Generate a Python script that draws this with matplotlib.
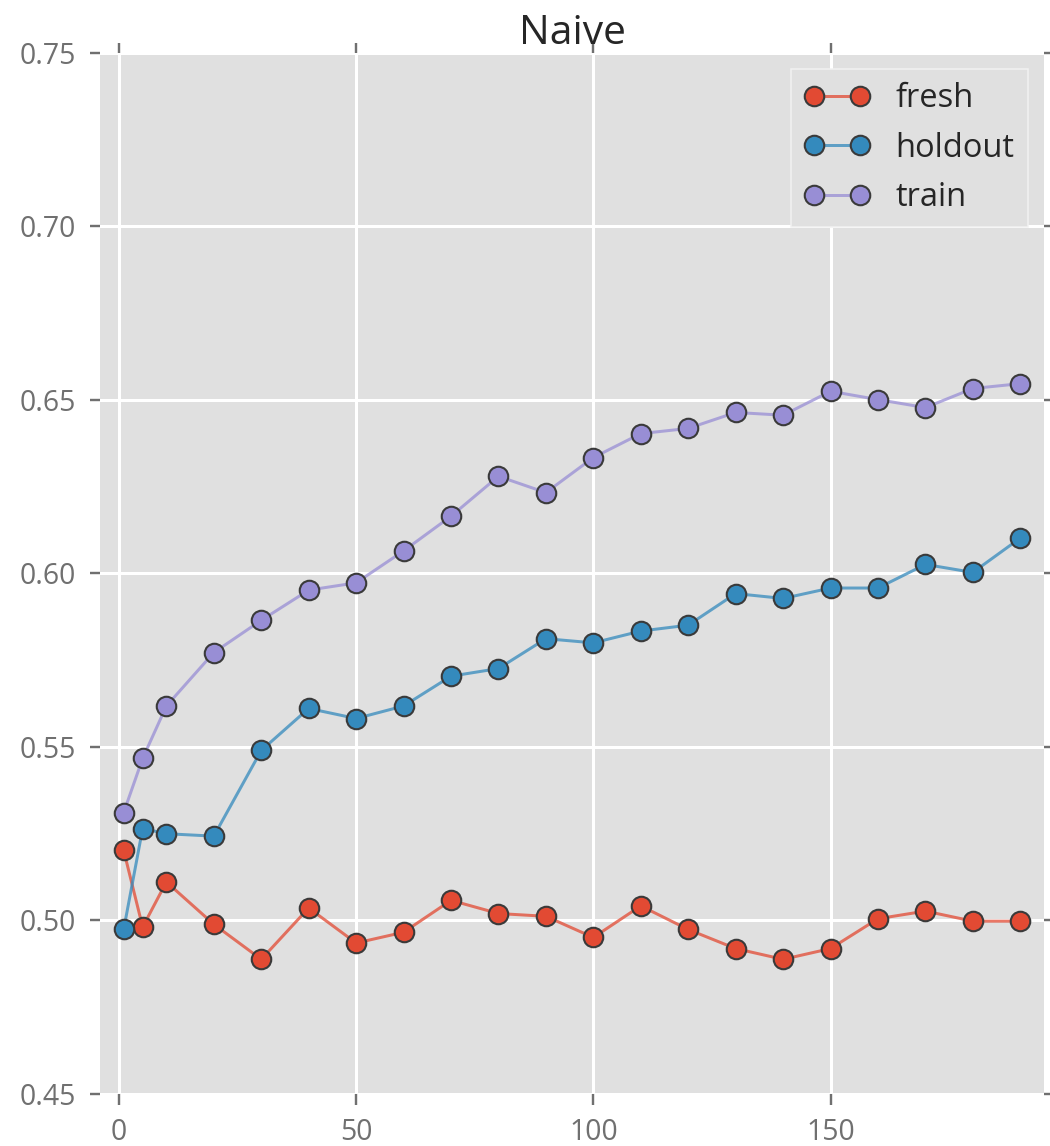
import matplotlib
matplotlib.use("Agg")
import matplotlib.pyplot as plt
from matplotlib.colors import to_rgba

# number of training rounds on the x axis
rounds = [1, 5, 10, 20, 30, 40, 50, 60, 70, 80, 90,
          100, 110, 120, 130, 140, 150, 160, 170, 180, 190]

fresh = [0.5202, 0.4981, 0.5111, 0.4989, 0.4888, 0.5036, 0.4935, 0.4966, 0.5058, 0.5020, 0.5012,
         0.4951, 0.5042, 0.4974, 0.4919, 0.4888, 0.4919, 0.5005, 0.5027, 0.4998, 0.4998]
holdout = [0.4974, 0.5265, 0.5250, 0.5243, 0.5490, 0.5611, 0.5582, 0.5618, 0.5704, 0.5726, 0.5812,
           0.5800, 0.5834, 0.5851, 0.5942, 0.5928, 0.5958, 0.5958, 0.6026, 0.6003, 0.6102]
train = [0.5311, 0.5467, 0.5618, 0.5772, 0.5865, 0.5952, 0.5973, 0.6065, 0.6165, 0.6280, 0.6233,
         0.6334, 0.6403, 0.6418, 0.6464, 0.6456, 0.6525, 0.6501, 0.6478, 0.6533, 0.6547]

series = [("fresh", fresh, "#E24A33"),
          ("holdout", holdout, "#348ABD"),
          ("train", train, "#988ED5")]

plt.style.use("ggplot")
plt.rcParams["font.family"] = ["Open Sans", "DejaVu Sans"]
plt.rcParams["font.size"] = 10

fig = plt.figure(figsize=(1050 / 216, 1146 / 216), dpi=216)
ax = fig.add_axes([0.0952, 0.0454, 0.8991, 0.9084])
ax.set_facecolor("#E0E0E0")

for name, vals, col in series:
  # slightly faded connecting line, solid markers
  ax.plot(rounds, vals, "-o", color=to_rgba(col, 0.75), lw=1.0, ms=6.5,
          mfc=col, mec="#3a3a3a", mew=0.7, label=name)

ax.set_xlim(-4, 195)
ax.set_ylim(0.45, 0.75)
ax.set_xticks([0, 50, 100, 150])
ax.set_yticks([0.45, 0.50, 0.55, 0.60, 0.65, 0.70, 0.75])
ax.set_yticklabels(["%.2f" % v for v in ax.get_yticks()])
ax.tick_params(axis="both", which="major", labelsize=9.5, colors="#707070",
               direction="out", length=3.5, pad=4.5, top=True, right=True)
ax.grid(True, color="white", lw=1.0)
ax.set_axisbelow(True)
for sp in ax.spines.values():
  sp.set_visible(False)

ax.set_title("Naive", fontsize=13.6, color="#262626", pad=3)

leg = ax.legend(loc="upper right", numpoints=2, fontsize=10.9, fancybox=False,
                framealpha=1.0, borderaxespad=0.5, handlelength=2.0)
leg.get_frame().set_facecolor("#E0E0E0")
leg.get_frame().set_edgecolor("#F2F2F2")
for t in leg.get_texts():
  t.set_color("#262626")

fig.savefig("out.png", dpi=216, facecolor="white")
